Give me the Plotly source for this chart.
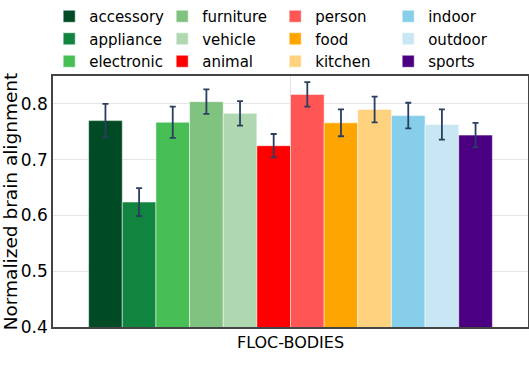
import plotly.graph_objects as go

categories = ["accessory", "appliance", "electronic", "furniture", "vehicle", "animal",
              "person", "food", "kitchen", "indoor", "outdoor", "sports"]
values = [0.770, 0.624, 0.767, 0.804, 0.783, 0.725, 0.817, 0.766, 0.790, 0.779, 0.763, 0.744]
errors = [0.030, 0.025, 0.028, 0.022, 0.022, 0.021, 0.022, 0.024, 0.023, 0.023, 0.027, 0.022]
colors = ["#004b25", "#118440", "#48bf55", "#80c280", "#b0d8b0", "#ff0000",
          "#ff5555", "#ffa500", "#ffd280", "#87ceeb", "#c8e6f4", "#4b0082"]
group = "FLOC-BODIES"

FONT = "DejaVu Sans"

fig = go.Figure()
for i, (cat, val, err, col) in enumerate(zip(categories, values, errors, colors)):
    # legend is filled row by row, so rank items to get column order
    rank = (i % 3) * 4 + i // 3
    fig.add_trace(go.Bar(
        x=[group], y=[val], name=cat,
        marker=dict(color=col, line=dict(color="white", width=0.5)),
        error_y=dict(type="data", array=[err], color="#2a3f5f", thickness=1.8, width=3),
        legendrank=rank + 1,
    ))

fig.update_layout(
    template="plotly_white",
    width=529, height=374,
    barmode="group",
    bargap=0.15,
    font=dict(family=FONT, size=15, color="black"),
    margin=dict(l=53, r=1, t=76, b=47, autoexpand=False),
    legend=dict(
        orientation="h",
        xref="container", yref="container",
        x=0.093, xanchor="left",
        y=1.0, yanchor="top",
        entrywidth=68,
        font=dict(size=15),
        bgcolor="rgba(0,0,0,0)",
        tracegroupgap=0,
    ),
    yaxis=dict(
        title=dict(text="Normalized brain alignment", font=dict(size=18.5), standoff=2),
        range=[0.4, 0.85],
        dtick=0.1,
        showline=True, mirror=True, linecolor="#444", linewidth=1.5,
        gridcolor="#e5e5e5",
        tickfont=dict(size=17),
        ticks="",
        automargin=False,
    ),
    xaxis=dict(
        showline=True, mirror=True, linecolor="#444", linewidth=1.5,
        showgrid=True, gridcolor="#e5e5e5",
        tickfont=dict(size=16),
        automargin=False,
    ),
)

# drop the default page margin so the figure sits at the window corner
fig.write_html(
    "out.html",
    config={"displayModeBar": False},
    post_script="document.body.style.margin='0px';",
)
